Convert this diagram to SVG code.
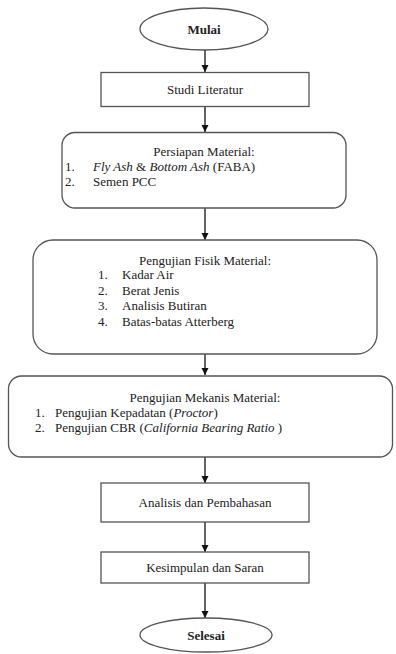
<svg xmlns="http://www.w3.org/2000/svg" width="396" height="654" viewBox="0 0 396 654">
<defs>
<style>
.box{fill:#fff;stroke:#555;stroke-width:1.3}
.t{font-family:"Liberation Serif","Times New Roman",serif;font-size:13px;fill:#222}
.c{text-anchor:middle}
.b{font-weight:bold}
.i{font-style:italic}
.ln{stroke:#111;stroke-width:1.3;fill:none}
</style>
<marker id="ah" viewBox="0 0 10 10" refX="10" refY="5" markerWidth="7" markerHeight="8" orient="auto" markerUnits="userSpaceOnUse">
<path d="M0,0 L10,5 L0,10 z" fill="#111"/>
</marker>
</defs>
<rect width="396" height="654" fill="#fff"/>
<g id="connectors">
<line class="ln" x1="205" y1="50" x2="205" y2="72" marker-end="url(#ah)"/>
<line class="ln" x1="205" y1="107" x2="205" y2="132" marker-end="url(#ah)"/>
<line class="ln" x1="205" y1="208" x2="205" y2="240" marker-end="url(#ah)"/>
<line class="ln" x1="205" y1="354" x2="205" y2="375" marker-end="url(#ah)"/>
<line class="ln" x1="205" y1="457" x2="205" y2="483" marker-end="url(#ah)"/>
<line class="ln" x1="205" y1="522" x2="205" y2="552" marker-end="url(#ah)"/>
<line class="ln" x1="205" y1="583" x2="205" y2="618" marker-end="url(#ah)"/>
</g>
<g id="mulai">
<ellipse class="box" cx="204" cy="29" rx="64" ry="21"/>
<text class="t c b" x="204" y="34">Mulai</text>
</g>
<g id="studi">
<rect class="box" x="101" y="72.5" width="208" height="34"/>
<text class="t c" x="205" y="94">Studi Literatur</text>
</g>
<g id="persiapan">
<rect class="box" x="62" y="132.5" width="284" height="75.5" rx="13"/>
<text class="t c" x="204" y="156">Persiapan Material:</text>
<text class="t" x="65" y="171">1.</text>
<text class="t" x="93" y="171"><tspan class="i">Fly Ash</tspan> &amp; <tspan class="i">Bottom Ash</tspan> (FABA)</text>
<text class="t" x="65" y="186">2.</text>
<text class="t" x="93" y="186">Semen PCC</text>
</g>
<g id="fisik">
<rect class="box" x="33" y="240" width="344" height="114" rx="20"/>
<text class="t c" x="205" y="265">Pengujian Fisik Material:</text>
<text class="t" x="98" y="279">1.</text>
<text class="t" x="122" y="279">Kadar Air</text>
<text class="t" x="98" y="295">2.</text>
<text class="t" x="122" y="295">Berat Jenis</text>
<text class="t" x="98" y="310">3.</text>
<text class="t" x="122" y="310">Analisis Butiran</text>
<text class="t" x="98" y="326">4.</text>
<text class="t" x="122" y="326">Batas-batas Atterberg</text>
</g>
<g id="mekanis">
<rect class="box" x="8.5" y="376" width="384" height="81" rx="13"/>
<text class="t c" x="205" y="402">Pengujian Mekanis Material:</text>
<text class="t" x="35" y="417">1.</text>
<text class="t" x="55" y="417">Pengujian Kepadatan (<tspan class="i">Proctor</tspan>)</text>
<text class="t" x="35" y="432">2.</text>
<text class="t" x="55" y="432" xml:space="preserve">Pengujian CBR (<tspan class="i">California Bearing Ratio</tspan> )</text>
</g>
<g id="analisis">
<rect class="box" x="101" y="483" width="208" height="39"/>
<text class="t c" x="205" y="507">Analisis dan Pembahasan</text>
</g>
<g id="kesimpulan">
<rect class="box" x="101" y="552" width="208" height="31"/>
<text class="t c" x="205" y="572">Kesimpulan dan Saran</text>
</g>
<g id="selesai">
<ellipse class="box" cx="206" cy="635" rx="66" ry="17"/>
<text class="t c b" x="206" y="640">Selesai</text>
</g>
</svg>
